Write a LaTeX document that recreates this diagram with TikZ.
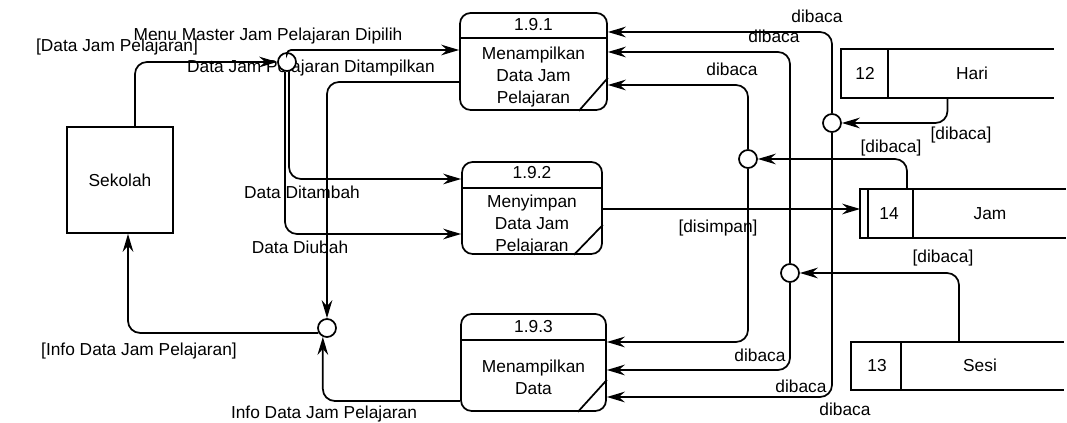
\documentclass[tikz,border=0pt]{standalone}
\usepackage{fontspec}
\setmainfont{Liberation Sans}
\usetikzlibrary{arrows.meta}

\begin{document}
\begin{tikzpicture}[x=0.75pt,y=-0.75pt,line width=1.3pt,
  every node/.style={font=\fontsize{13}{16.5}\selectfont},
  lbl/.style={inner sep=0pt,text height=9pt,text depth=0pt},
  isi/.style={align=center,inner sep=0pt},
  proses/.style={draw,rounded corners=8pt,inner sep=0pt},
  entitas/.style={draw,inner sep=0pt},
  simpan/.style={inner sep=0pt},
  titik/.style={circle,draw,fill=white,minimum size=13.5pt,inner sep=0pt},
  alir/.style={-{Stealth[length=13.5pt,width=8pt,inset=4.5pt]},rounded corners=9pt}]

  \useasboundingbox (0,0) rectangle (1067,423);

  % label aliran
  \node[lbl] (lmenu) at (268,35) {Menu Master Jam Pelajaran Dipilih};
  \node[lbl,fill=white] (ldata) at (117,46) {[Data Jam Pelajaran]};
  \node[lbl] (ltampil) at (311,67) {Data Jam Pelajaran Ditampilkan};
  \node[lbl] (ltambah) at (302,193) {Data Ditambah};
  \node[lbl] (lubah) at (300,248) {Data Diubah};
  \node[lbl] (linfo) at (139,350) {[Info Data Jam Pelajaran]};
  \node[lbl] (linfo2) at (324,413) {Info Data Jam Pelajaran};
  \node[lbl] (lbaca1) at (817,17) {dibaca};
  \node[lbl] (lbaca2) at (774,37) {dibaca};
  \node[lbl] (lbaca3) at (732,70) {dibaca};
  \node[lbl] (lbaca4) at (760,356) {dibaca};
  \node[lbl] (lbaca5) at (801,387) {dibaca};
  \node[lbl] (lbaca6) at (845,410) {dibaca};
  \node[lbl] (lhari) at (961,134) {[dibaca]};
  \node[lbl] (ljam) at (891,147) {[dibaca]};
  \node[lbl] (lsesi) at (943,257) {[dibaca]};
  \node[lbl] (lsimpan) at (718,227) {[disimpan]};

  % entitas luar
  \node[entitas,minimum width=79.5pt,minimum height=79.5pt] (sekolah) at (120,180) {Sekolah};

  % proses 1.9.1
  \node[proses,minimum width=110.25pt,minimum height=72.75pt] (p1) at (533.5,61.5) {};
  \draw (p1.west |- 0,38) -- (p1.east |- 0,38);
  \node[lbl] (p1no) at (533.5,25) {1.9.1};
  \node[isi] (p1isi) at (533.5,77) {Menampilkan\\Data Jam\\Pelajaran};
  \draw (p1.south east) ++(-29,0) -- ++(29,-33);

  % proses 1.9.2
  \node[proses,minimum width=105pt,minimum height=69pt] (p2) at (532,208) {};
  \draw (p2.west |- 0,188) -- (p2.east |- 0,188);
  \node[lbl] (p2no) at (532,173) {1.9.2};
  \node[isi] (p2isi) at (532,225) {Menyimpan\\Data Jam\\Pelajaran};
  \draw (p2.south east) ++(-29,0) -- ++(29,-30);

  % proses 1.9.3
  \node[proses,minimum width=108.75pt,minimum height=72.75pt] (p3) at (533.5,362.5) {};
  \draw (p3.west |- 0,340) -- (p3.east |- 0,340);
  \node[lbl] (p3no) at (533.5,327) {1.9.3};
  \node[isi] (p3isi) at (533.5,377.5) {Menampilkan\\Data};
  \draw (p3.south east) ++(-29,0) -- ++(29,-32);

  % data store
  \node[simpan,minimum width=158.25pt,minimum height=35.25pt] (hari) at (947.5,73.5) {};
  \draw (hari.north east) -- (hari.north west) -- (hari.south west) -- (hari.south east);
  \draw (hari.north west -| 888,0) -- (hari.south west -| 888,0);
  \node[lbl] (hariid) at (865,73.5) {12};
  \node[lbl] (harinm) at (972,73.5) {Hari};

  \node[simpan,minimum width=153pt,minimum height=35.25pt] (jam) at (963,213.5) {};
  \draw (jam.north east) -- (jam.north west) -- (jam.south west) -- (jam.south east);
  \draw (jam.north west -| 868,0) -- (jam.south west -| 868,0);
  \draw (jam.north west -| 913,0) -- (jam.south west -| 913,0);
  \node[lbl] (jamid) at (889,213.5) {14};
  \node[lbl] (jamnm) at (990,213.5) {Jam};

  \node[simpan,minimum width=158.25pt,minimum height=34.5pt] (sesi) at (957.5,366) {};
  \draw (sesi.north east) -- (sesi.north west) -- (sesi.south west) -- (sesi.south east);
  \draw (sesi.north west -| 901,0) -- (sesi.south west -| 901,0);
  \node[lbl] (sesiid) at (877,366) {13};
  \node[lbl] (sesinm) at (980,366) {Sesi};

  % titik percabangan
  \node[titik] (t1) at (287,62) {};
  \node[titik] (t2) at (327,328) {};
  \node[titik] (thari) at (832,123) {};
  \node[titik] (tjam) at (748,159) {};
  \node[titik] (tsesi) at (790,273) {};

  % aliran data
  \draw[alir] (sekolah.north -| 135,0) |- (t1);
  \draw[alir,rounded corners=3pt] (t1.north) |- (p1.west |- 0,50);
  \draw[alir] (p1.west |- 0,82) -| (t2);
  \draw[alir] ([xshift=1.5pt]t1.south) |- (p2.west |- 0,179);
  \draw[alir] ([xshift=-1.5pt]t1.south) |- (p2.west |- 0,234);
  \draw[alir] (t2.210) -| (sekolah.south -| 128,0);
  \draw[alir] (p3.west |- 0,401) -| (t2.-115);

  \draw[alir] (hari.south) |- (thari);
  \draw[alir] (jam.north -| 907,0) |- (tjam);
  \draw[alir] (sesi.north -| 959,0) |- (tsesi);
  \draw[alir] (p2.east |- 0,209) -- (jam.west |- 0,209);

  \draw[alir] (thari.north) |- (p1.east |- 0,32);
  \draw[alir] (tsesi.north) |- (p1.east |- 0,52);
  \draw[alir] (tjam.north) |- (p1.east |- 0,85);
  \draw[alir] (tjam.south) |- (p3.east |- 0,342);
  \draw[alir] (tsesi.south) |- (p3.east |- 0,370);
  \draw[alir] (thari.south) |- (p3.east |- 0,397);

\end{tikzpicture}
\end{document}
